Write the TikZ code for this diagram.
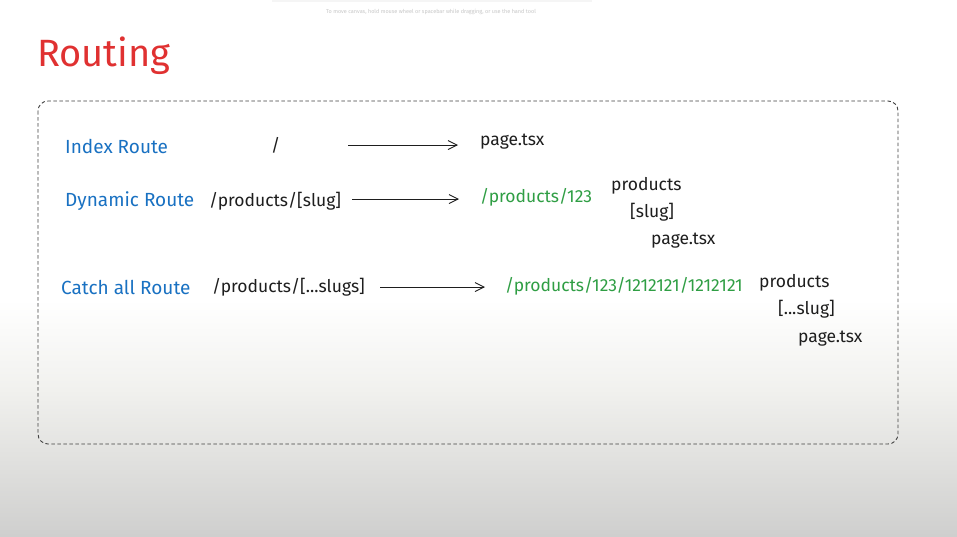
\documentclass[tikz,border=0pt]{standalone}
\usepackage{fontspec}
\setmainfont{Fira Sans}
\usetikzlibrary{arrows.meta}
\definecolor{exred}{HTML}{E03131}
\definecolor{exblue}{HTML}{1971C2}
\definecolor{exgreen}{HTML}{2F9E44}
\definecolor{exink}{HTML}{1E1E1E}
\definecolor{bgbot}{HTML}{CFCFCE}
\definecolor{bgmid}{HTML}{F1F1EE}
\tikzset{
  lbl/.style={anchor=west, inner sep=0pt, font=\fontsize{17.5}{17.5}\selectfont},
  route/.style={lbl, text=exblue, font=\fontsize{19}{19}\selectfont},
  path/.style={lbl, text=exink},
  url/.style={lbl, text=exgreen},
  arr/.style={draw=exink, line width=0.9pt, -{Straight Barb[length=9pt,width=9pt]}},
}
\begin{document}
\begin{tikzpicture}[x=1pt,y=-1pt]
\useasboundingbox (0,0) rectangle (957,536);
% background
\fill[white] (0,0) rectangle (957,300);
\shade[top color=white, bottom color=bgmid] (0,299.5) rectangle (957,390);
\shade[top color=bgmid, bottom color=bgbot] (0,389.5) rectangle (957,536);
% top toolbar hint
\fill[black!4] (272,-6) rectangle (592,2);
\node[inner sep=0pt, text=black!22, font=\fontsize{5.5}{5.5}\selectfont] (hint) at (431,12) {To move canvas, hold mouse wheel or spacebar while dragging, or use the hand tool};
% title
\node[lbl, text=exred, font=\fontsize{38}{38}\selectfont] (title) at (37,56) {Routing};
% frame
\draw[exink!85, line width=0.9pt, dashed, dash pattern=on 3.5pt off 2.5pt, rounded corners=10pt] (38,101) rectangle (898,444);
% row 1
\node[route] (r1) at (65,146) {Index Route};
\node[path] (p1) at (271,145) {/};
\node[path] (d1) at (480,142) {page.tsx};
\coordinate (a1s) at (348,145);
\coordinate (a1e) at (458,145);
\draw[arr] (a1s) -- (a1e);
% row 2
\node[route] (r2) at (65,201) {Dynamic Route};
\node[path] (p2) at (209,201) {/products/[slug]};
\node[url] (u2) at (480,197) {/products/123};
\coordinate (a2s) at (352,199);
\coordinate (a2e) at (459,199);
\draw[arr] (a2s) -- (a2e);
\node[path] (f2a) at (611,186) {products};
\node[path] (f2b) at (630,212) {[slug]};
\node[path] (f2c) at (651,241) {page.tsx};
% row 3
\node[route] (r3) at (61,287) {Catch all Route};
\node[path] (p3) at (212,287) {/products/[...slugs]};
\node[url] (u3) at (505,286) {/products/123/1212121/1212121};
\coordinate (a3s) at (380,287);
\coordinate (a3e) at (485,287);
\draw[arr] (a3s) -- (a3e);
\node[path] (f3a) at (759,283) {products};
\node[path] (f3b) at (778,309) {[...slug]};
\node[path] (f3c) at (798,339) {page.tsx};
\end{tikzpicture}
\end{document}
